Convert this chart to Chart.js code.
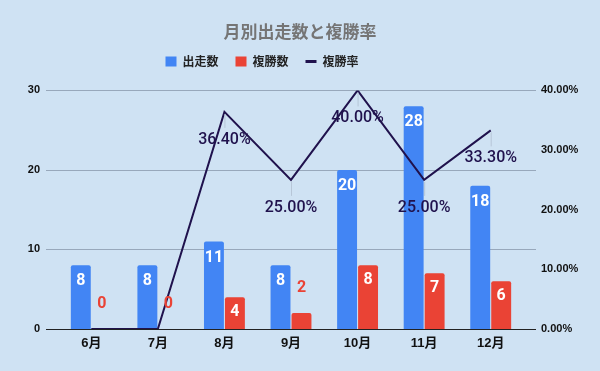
<!DOCTYPE html>
<html>
<head>
<meta charset="utf-8">
<script src="https://cdn.jsdelivr.net/npm/chart.js@4"></script>
<style>
  html, body { margin: 0; padding: 0; background: #cfe2f3; }
  #wrap { width: 600px; height: 371px; }
</style>
</head>
<body>
<div id="wrap"><canvas id="chart"></canvas></div>
<script>
const months = ['6月', '7月', '8月', '9月', '10月', '11月', '12月'];
const starts = [8, 8, 11, 8, 20, 28, 18];        // 出走数
const places = [0, 0, 4, 2, 8, 7, 6];            // 複勝数
const placeRate = [0, 0, 36.4, 25.0, 40.0, 25.0, 33.3]; // 複勝率 (%)

const BLUE = '#4285f4';
const RED = '#ea4335';
const NAVY = '#20124d';
const LATIN = "'Liberation Sans', 'Noto Sans CJK JP', sans-serif";
const CJK = "'Noto Sans CJK JP', 'Liberation Sans', sans-serif";

// gridlines are a bit wider than the plot area in the original
const gridPlugin = {
    id: 'wideGrid',
    beforeDatasetsDraw(chart) {
        const { ctx, chartArea, scales } = chart;
        const left = chartArea.left - 12, right = chartArea.right + 12;
        ctx.save();
        scales.y.ticks.forEach(t => {
            const y = Math.round(scales.y.getPixelForValue(t.value)) + 0.5;
            ctx.strokeStyle = t.value === 0 ? '#222' : '#98a8bb';
            ctx.lineWidth = 1;
            ctx.beginPath();
            ctx.moveTo(left, y);
            ctx.lineTo(right, y);
            ctx.stroke();
        });
        ctx.restore();
    }
};

// legend sits left of centre and leaves a gap above the plot
const legendPlugin = {
    id: 'legendShift',
    afterInit(chart) {
        const lg = chart.legend;
        const fit = lg.fit.bind(lg);
        lg.fit = function () { fit(); this.height += 10; };
    },
    afterLayout(chart) {
        const lg = chart.legend;
        lg.left -= 38;
        lg.right -= 38;
        lg.top -= 3;
    }
};

const labelPlugin = {
    id: 'valueLabels',
    afterDatasetsDraw(chart) {
        const { ctx } = chart;
        ctx.save();
        ctx.textAlign = 'center';
        ctx.textBaseline = 'middle';

        ctx.font = "bold 16px Roboto, 'Liberation Sans', sans-serif";
        chart.getDatasetMeta(0).data.forEach((bar, i) => {
            ctx.fillStyle = '#fff';
            ctx.fillText(String(starts[i]), bar.x, bar.y + 16);
        });
        chart.getDatasetMeta(1).data.forEach((bar, i) => {
            const h = bar.base - bar.y;
            if (h >= 26) {
                ctx.fillStyle = '#fff';
                ctx.fillText(String(places[i]), bar.x, bar.y + 15);
            } else {
                ctx.fillStyle = RED;
                ctx.fillText(String(places[i]), bar.x, bar.y - 25);
            }
        });

        ctx.font = "500 16px Roboto, 'Liberation Sans', sans-serif";
        chart.getDatasetMeta(2).data.forEach((pt, i) => {
            if (!placeRate[i]) return;
            ctx.strokeStyle = 'rgba(180,195,212,0.9)';
            ctx.lineWidth = 1;
            ctx.beginPath();
            ctx.moveTo(pt.x + 0.5, pt.y + 2);
            ctx.lineTo(pt.x + 0.5, pt.y + 16);
            ctx.stroke();
            ctx.fillStyle = NAVY;
            ctx.fillText(placeRate[i].toFixed(2) + '%', pt.x, pt.y + 28);
        });
        ctx.restore();
    }
};

new Chart(document.getElementById('chart'), {
    data: {
        labels: months,
        datasets: [
            {
                type: 'bar', label: '出走数', data: starts, yAxisID: 'y',
                backgroundColor: BLUE, borderWidth: 0, borderRadius: { topLeft: 2, topRight: 2 },
                barPercentage: 0.95, categoryPercentage: 0.63, order: 2
            },
            {
                type: 'bar', label: '複勝数', data: places, yAxisID: 'y',
                backgroundColor: RED, borderWidth: 0, borderRadius: { topLeft: 2, topRight: 2 },
                barPercentage: 0.95, categoryPercentage: 0.63, order: 2
            },
            {
                type: 'line', label: '複勝率', data: placeRate, yAxisID: 'y1',
                borderColor: NAVY, backgroundColor: NAVY, borderWidth: 2,
                pointRadius: 0, tension: 0, order: 1
            }
        ]
    },
    options: {
        responsive: true,
        maintainAspectRatio: false,
        animation: false,
        plugins: {
            title: {
                display: true, text: '月別出走数と複勝率', color: '#757575',
                font: { family: CJK, size: 17, weight: 'bold' },
                padding: { top: 21, bottom: 0 }
            },
            legend: {
                position: 'top',
                labels: {
                    color: '#222', font: { family: CJK, size: 12, weight: 'bold' },
                    usePointStyle: true, pointStyleWidth: 11, boxWidth: 11, boxHeight: 10, padding: 17,
                    sort: (a, b) => a.datasetIndex - b.datasetIndex,
                    generateLabels(chart) {
                        const items = Chart.defaults.plugins.legend.labels.generateLabels(chart);
                        items.forEach(it => {
                            if (it.datasetIndex === 2) { it.pointStyle = 'line'; it.lineWidth = 3; it.strokeStyle = NAVY; }
                            else { it.pointStyle = 'rect'; it.lineWidth = 0; }
                        });
                        return items;
                    }
                }
            },
            tooltip: { enabled: false }
        },
        scales: {
            x: {
                grid: { display: false, drawTicks: false }, border: { display: false },
                ticks: { color: '#111', font: { family: LATIN, size: 13, weight: 'bold' }, padding: 7 },
                afterFit: s => { s.height = 42; }
            },
            y: {
                position: 'left', min: 0, max: 30,
                grid: { display: false, drawTicks: false }, border: { display: false },
                ticks: { stepSize: 10, color: '#111', font: { family: LATIN, size: 11, weight: 'bold' }, padding: 18 },
                afterFit: s => { s.width = 58; }
            },
            y1: {
                position: 'right', min: 0, max: 40,
                grid: { display: false, drawTicks: false }, border: { display: false },
                ticks: {
                    stepSize: 10, color: '#111', font: { family: LATIN, size: 11, weight: 'bold' }, padding: 17,
                    callback: v => v.toFixed(2) + '%'
                },
                afterFit: s => { s.width = 76; }
            }
        }
    },
    plugins: [gridPlugin, legendPlugin, labelPlugin]
});
</script>
</body>
</html>
